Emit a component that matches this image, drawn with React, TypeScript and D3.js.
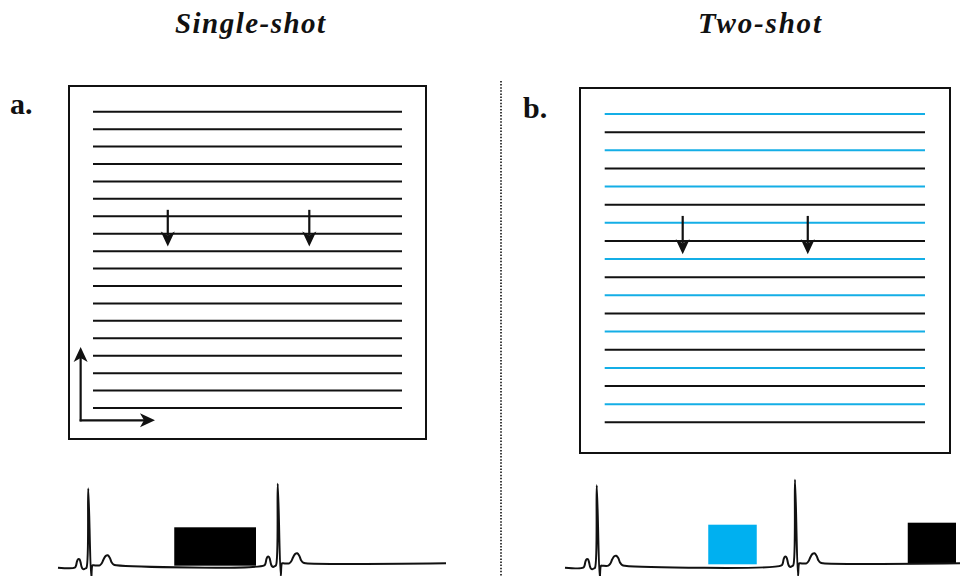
import React from "react";
import * as d3 from "d3";

// ---------- data ----------
const panelTitles = ["Single-shot", "Two-shot"];
const panelLabels = ["a.", "b."];

// k-space rows (index) and which shot acquires them
const rowsA = [0, 1, 2, 3, 4, 5, 6, 7, 8, 9, 10, 11, 12, 13, 14, 15, 16, 17];
const shotA = [1, 1, 1, 1, 1, 1, 1, 1, 1, 1, 1, 1, 1, 1, 1, 1, 1, 1];
const rowsB = [0, 1, 2, 3, 4, 5, 6, 7, 8, 9, 10, 11, 12, 13, 14, 15, 16, 17];
const shotB = [1, 2, 1, 2, 1, 2, 1, 2, 1, 2, 1, 2, 1, 2, 1, 2, 1, 2];

// readout-direction arrows (kx fraction, row start, row end)
const arrowsAkx = [0.242, 0.7];
const arrowsBkx = [0.2435, 0.634];
const arrowRowStart = [5.63, 5.62];
const arrowRowEnd = [7.74, 7.73];

// ECG beat template: time (ms rel. to R), amplitude (mV), segment (0 = before R, 1 = R, 2 = after)
const tmplT = [-54, -49, -45, -40, -35, -31, -27, -23, -18, -12, -7, 0, 12, 17, 22, 46, 54, 62, 70, 78, 86, 94, 102, 112];
const tmplV = [0, 0.025, 0.08, 0.108, 0.105, 0.07, 0.015, -0.012, -0.02, -0.01, 0, 1, -0.16, 0, 0, 0, 0.025, 0.08, 0.118, 0.125, 0.095, 0.035, 0.008, 0];
const tmplSeg = [0, 0, 0, 0, 0, 0, 0, 0, 0, 0, 0, 1, 2, 2, 2, 2, 2, 2, 2, 2, 2, 2, 2, 2];

// beats per strip: R time (ms), R amplitude, baseline before, baseline after
const beatsA = [
  { r: 121, amp: 0.99, pre: 0, post: 0.03 },
  { r: 879, amp: 1.02, pre: 0.03, post: 0.055 },
];
const beatsB = [
  { r: 127, amp: 1.03, pre: 0, post: 0.025 },
  { r: 920, amp: 1.07, pre: 0.03, post: 0.055 },
];
const stripEndA = 1552;
const stripEndB = 1580;

// acquisition windows: start, end (ms), top (mV), baseline (mV), shot
const blocksA = [{ t0: 465, t1: 792, top: 0.505, base: 0.025, shot: 1 }];
const blocksB = [
  { t0: 573, t1: 767, top: 0.5375, base: 0.0425, shot: 1 },
  { t0: 1371, t1: 1564, top: 0.5625, base: 0.055, shot: 2 },
];

// ---------- styles ----------
const BLUE = "#00b0f0";
const INK = "#111";
const shotColorA = (s: number) => (s === 1 ? INK : INK);
const shotColorB = (s: number) => (s === 1 ? "#14aee6" : INK);

// ---------- helpers ----------
function ecgPoints(beats: typeof beatsA, end: number): [number, number][] {
  const pts: [number, number][] = [[0, beats[0].pre]];
  beats.forEach((b) => {
    tmplT.forEach((t, i) => {
      const seg = tmplSeg[i];
      const v = seg === 1 ? b.amp + b.pre : tmplV[i] + (seg === 0 ? b.pre : b.post);
      pts.push([b.r + t, v]);
    });
  });
  pts.push([end, beats[beats.length - 1].post]);
  return pts;
}

function Arrow({ x1, y1, x2, y2 }: { x1: number; y1: number; x2: number; y2: number }) {
  const ang = Math.atan2(y2 - y1, x2 - x1);
  const L = 15;
  const W = 7;
  const ux = Math.cos(ang), uy = Math.sin(ang);
  const px = -uy, py = ux;
  const bx = x2 - ux * L, by = y2 - uy * L;
  const nx = x2 - ux * (L - 4), ny = y2 - uy * (L - 4);
  const head = `M${x2},${y2} L${bx + px * W},${by + py * W} L${nx},${ny} L${bx - px * W},${by - py * W} Z`;
  return (
    <g>
      <line x1={x1} y1={y1} x2={nx} y2={ny} stroke={INK} strokeWidth={2.2} />
      <path d={head} fill={INK} />
    </g>
  );
}

export default function App() {
  // k-space scales
  const kxA = d3.scaleLinear().domain([0, 1]).range([93, 402]);
  const kyA = d3.scaleLinear().domain([0, 17]).range([111.7, 408]);
  const kxB = d3.scaleLinear().domain([0, 1]).range([604.7, 925]);
  const kyB = d3.scaleLinear().domain([0, 17]).range([114, 422.3]);

  // ECG scales
  const exA = d3.scaleLinear().domain([0, stripEndA]).range([58, 446]);
  const exB = d3.scaleLinear().domain([0, stripEndB]).range([565, 960]);
  const ey = d3.scaleLinear().domain([0, 1]).range([567.7, 487.7]);

  const lineA = d3
    .line<[number, number]>()
    .x((d) => exA(d[0]))
    .y((d) => ey(d[1]))
    .curve(d3.curveCatmullRom.alpha(0.5));
  const lineB = d3
    .line<[number, number]>()
    .x((d) => exB(d[0]))
    .y((d) => ey(d[1]))
    .curve(d3.curveCatmullRom.alpha(0.5));

  const titleFont = "'Liberation Serif', 'DejaVu Serif', serif";

  return (
    <svg
      width={960}
      height={576}
      viewBox="0 0 960 576"
      style={{ position: "absolute", left: 0, top: 0, background: "#fff" }}
    >
      <rect x={0} y={0} width={960} height={576} fill="#fff" />

      {/* titles */}
      <text x={175} y={33} textLength={150} lengthAdjust="spacing" fontFamily={titleFont} fontStyle="italic" fontWeight="bold" fontSize={29} fill={INK}>
        {panelTitles[0]}
      </text>
      <text x={698} y={33} textLength={123} lengthAdjust="spacing" fontFamily={titleFont} fontStyle="italic" fontWeight="bold" fontSize={29} fill={INK}>
        {panelTitles[1]}
      </text>

      {/* panel labels */}
      <text x={10} y={113.5} fontFamily={titleFont} fontWeight="bold" fontSize={30} fill={INK}>
        {panelLabels[0]}
      </text>
      <text x={523} y={117.5} fontFamily={titleFont} fontWeight="bold" fontSize={30} fill={INK}>
        {panelLabels[1]}
      </text>

      {/* divider */}
      <line x1={501} y1={81} x2={501} y2={576} stroke={INK} strokeWidth={1.6} strokeDasharray="1.5 1.6" />

      {/* panel a box */}
      <rect x={69} y={86} width={357} height={353} fill="none" stroke={INK} strokeWidth={2} />
      {rowsA.map((r, i) => (
        <line key={"a" + r} x1={kxA(0)} x2={kxA(1)} y1={kyA(r)} y2={kyA(r)} stroke={shotColorA(shotA[i])} strokeWidth={2} />
      ))}
      {arrowsAkx.map((k, i) => (
        <Arrow key={"aa" + i} x1={kxA(k)} y1={kyA(arrowRowStart[0])} x2={kxA(k)} y2={kyA(arrowRowEnd[0])} />
      ))}
      {/* axis arrows */}
      <Arrow x1={kxA(-0.04)} y1={kyA(17.71) + 1} x2={kxA(-0.04)} y2={kyA(13.5)} />
      <Arrow x1={kxA(-0.04) - 1} y1={kyA(17.71)} x2={kxA(0.2006)} y2={kyA(17.71)} />

      {/* panel b box */}
      <rect x={580} y={88} width={370} height={365} fill="none" stroke={INK} strokeWidth={2} />
      {rowsB.map((r, i) => (
        <line key={"b" + r} x1={kxB(0)} x2={kxB(1)} y1={kyB(r)} y2={kyB(r)} stroke={shotColorB(shotB[i])} strokeWidth={2} />
      ))}
      {arrowsBkx.map((k, i) => (
        <Arrow key={"ba" + i} x1={kxB(k)} y1={kyB(arrowRowStart[1])} x2={kxB(k)} y2={kyB(arrowRowEnd[1])} />
      ))}

      {/* ECG strips */}
      {blocksA.map((b, i) => (
        <rect key={"blA" + i} x={exA(b.t0)} y={ey(b.top)} width={exA(b.t1) - exA(b.t0)} height={ey(b.base) - ey(b.top)} fill={b.shot === 1 ? "#000" : BLUE} />
      ))}
      {blocksB.map((b, i) => (
        <rect key={"blB" + i} x={exB(b.t0)} y={ey(b.top)} width={exB(b.t1) - exB(b.t0)} height={ey(b.base) - ey(b.top)} fill={b.shot === 1 ? BLUE : "#000"} />
      ))}
      <path d={lineA(ecgPoints(beatsA, stripEndA)) || ""} fill="none" stroke={INK} strokeWidth={2} strokeLinejoin="round" />
      <path d={lineB(ecgPoints(beatsB, stripEndB)) || ""} fill="none" stroke={INK} strokeWidth={2} strokeLinejoin="round" />
    </svg>
  );
}
